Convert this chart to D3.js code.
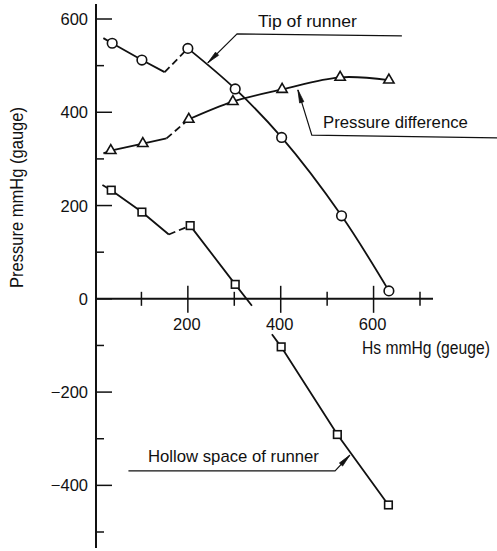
<!DOCTYPE html>
<html><head><meta charset="utf-8">
<script src="https://cdn.jsdelivr.net/npm/d3@7"></script>
<style>body{margin:0;background:#fff}svg{display:block}</style>
</head><body><svg id="c" width="497" height="551"></svg>
<script>
// ---- data ----
const xMajorTicks = [200, 400, 600];
const xMinorTicks = [100, 300, 500, 700];
const yMajorTicks = [600, 400, 200, 0, -200, -400];
const yMinorTicks = [500, 300, 100, -100, -300, -500];
const xTickLabels = ["200", "400", "600"];
const yTickLabels = ["600", "400", "200", "0", "\u2212200", "\u2212400"];

// Tip of runner (circles)
const tipX = [37, 101, 200, 302, 402, 531, 633];
const tipY = [548, 512, 537, 450, 346, 178, 17];
const tipLead = [[18, 559], [37, 548], [101, 512], [150, 486]];
const tipDash = [[150, 486], [200, 537]];
const tipCurve = [[200, 537], [302, 450], [402, 346], [531, 178], [633, 17]];

// Pressure difference (triangles)
const pdX = [34, 103, 202, 297, 403, 528, 633];
const pdY = [318, 333, 385, 423, 449, 475, 469];
const pdLead = [[18, 312], [34, 318], [103, 333], [154, 344]];
const pdDash = [[154, 344], [202, 385]];
const pdCurve = [[202, 385], [297, 423], [403, 449], [528, 475], [633, 469]];

// Hollow space of runner (squares)
const hsX = [35, 101, 205, 302, 401, 522, 632];
const hsY = [233, 186, 157, 31, -103, -291, -442];
const hsLead = [[16, 244], [35, 233], [101, 186], [159, 138]];
const hsDash = [[159, 138], [205, 157]];
const hsSeg1 = [[205, 157], [302, 31], [338, -15]];
const hsSeg2 = [[381, -76], [401, -103], [522, -291], [632, -442]];

// annotations (data units)
const annText = ["Tip of runner", "Pressure difference", "Hollow space of runner"];
const annAt = [[351, 583], [491, 366], [114, -349]];
const annLeader = [
  [[661, 564], [306, 568], [243, 506]],
  [[866, 345], [467, 351], [437, 448]],
  [[72, -369], [517, -369], [549, -335]]
];
const xTitle = "Hs mmHg (geuge)";
const yTitle = "Pressure mmHg (gauge)";

// ---- drawing ----
const svg = d3.select("#c");
const x = d3.scaleLinear().domain([0, 700]).range([95, 420]);
const y = d3.scaleLinear().domain([-500, 600]).range([532, 19]);
const ink = "#111";
const font = "'Liberation Sans', Arial, sans-serif";

svg.append("rect").attr("width", 497).attr("height", 551).attr("fill", "#fff");

// axes
const x0 = x(0), y0 = y(0);
svg.append("line").attr("x1", x0 + 1).attr("x2", x0 + 1).attr("y1", 4).attr("y2", 548)
  .attr("stroke", ink).attr("stroke-width", 2);
svg.append("line").attr("x1", x0).attr("x2", 433).attr("y1", y0).attr("y2", y0)
  .attr("stroke", ink).attr("stroke-width", 2);

svg.selectAll(".ymaj").data(yMajorTicks).join("line")
  .attr("x1", x0 + 1).attr("x2", x0 + 17).attr("y1", d => y(d)).attr("y2", d => y(d))
  .attr("stroke", ink).attr("stroke-width", 1.5);
svg.selectAll(".ymin").data(yMinorTicks).join("line")
  .attr("x1", x0 + 1).attr("x2", x0 + 9).attr("y1", d => y(d)).attr("y2", d => y(d))
  .attr("stroke", ink).attr("stroke-width", 1.5);
svg.selectAll(".xmaj").data(xMajorTicks).join("line")
  .attr("x1", d => x(d)).attr("x2", d => x(d)).attr("y1", y0 - 13).attr("y2", y0 + 14)
  .attr("stroke", ink).attr("stroke-width", 1.5);
svg.selectAll(".xmin").data(xMinorTicks).join("line")
  .attr("x1", d => x(d)).attr("x2", d => x(d)).attr("y1", y0 - 7).attr("y2", y0 + 7)
  .attr("stroke", ink).attr("stroke-width", 1.5);

svg.selectAll(".ylab").data(yMajorTicks).join("text")
  .attr("x", 88).attr("y", d => y(d) + 6)
  .attr("text-anchor", "end").attr("font-family", font).attr("font-size", 16.5)
  .attr("fill", ink).text((d, i) => yTickLabels[i]);
svg.selectAll(".xlab").data(xMajorTicks).join("text")
  .attr("x", d => x(d) - 1).attr("y", y0 + 31)
  .attr("text-anchor", "middle").attr("font-family", font).attr("font-size", 16.5)
  .attr("fill", ink).text((d, i) => xTickLabels[i]);

svg.append("text").attr("transform", "translate(362,354) scale(0.87,1)")
  .attr("font-family", font).attr("font-size", 18).attr("fill", ink).text(xTitle);
svg.append("text").attr("transform", "translate(23,197.5) rotate(-90)").attr("text-anchor", "middle")
  .attr("font-family", font).attr("font-size", 18)
  .attr("textLength", 181).attr("lengthAdjust", "spacingAndGlyphs").attr("fill", ink).text(yTitle);

// series lines
const lin = d3.line().x(d => x(d[0])).y(d => y(d[1]));
const smooth = d3.line().x(d => x(d[0])).y(d => y(d[1])).curve(d3.curveCatmullRom.alpha(0.5));
function path(data, gen, dash) {
  svg.append("path").attr("d", gen(data)).attr("fill", "none").attr("stroke", ink)
    .attr("stroke-width", 1.8).attr("stroke-dasharray", dash || null);
}
path(tipLead, lin); path(tipDash, lin, "7,4"); path(tipCurve, smooth);
path(pdLead, lin); path(pdDash, lin, "7,4"); path(pdCurve, smooth);
path(hsLead, lin); path(hsDash, lin, "7,4"); path(hsSeg1, lin); path(hsSeg2, lin);

// markers
svg.selectAll(".circ").data(tipX).join("circle")
  .attr("cx", d => x(d)).attr("cy", (d, i) => y(tipY[i])).attr("r", 4.8)
  .attr("fill", "#fff").attr("stroke", ink).attr("stroke-width", 1.6);
const tri = d3.symbol().type(d3.symbolTriangle).size(46);
svg.selectAll(".tri").data(pdX).join("path")
  .attr("d", tri).attr("transform", (d, i) => `translate(${x(d)},${y(pdY[i])})`)
  .attr("fill", "#fff").attr("stroke", ink).attr("stroke-width", 1.6);
svg.selectAll(".sq").data(hsX).join("rect")
  .attr("x", d => x(d) - 3.8).attr("y", (d, i) => y(hsY[i]) - 3.8).attr("width", 7.6).attr("height", 7.6)
  .attr("fill", "#fff").attr("stroke", ink).attr("stroke-width", 1.6);

// annotations
annText.forEach((t, i) => {
  const len = [99, 145, 171][i];
  svg.append("text").attr("x", x(annAt[i][0])).attr("y", y(annAt[i][1]))
    .attr("font-family", font).attr("font-size", 17).attr("fill", ink)
    .attr("textLength", len).attr("lengthAdjust", "spacingAndGlyphs").text(t);
  const pts = annLeader[i];
  svg.append("path").attr("d", lin(pts)).attr("fill", "none").attr("stroke", ink).attr("stroke-width", 1.2);
  const tip = pts[2], el = pts[1];
  const tx = x(tip[0]), ty = y(tip[1]), ex = x(el[0]), ey = y(el[1]);
  const L = Math.hypot(ex - tx, ey - ty), ux = (ex - tx) / L, uy = (ey - ty) / L;
  const nx = -uy, ny = ux, al = 13, aw = 2.2;
  svg.append("path")
    .attr("d", `M${tx},${ty}L${tx + ux * al + nx * aw},${ty + uy * al + ny * aw}L${tx + ux * al - nx * aw},${ty + uy * al - ny * aw}Z`)
    .attr("fill", ink).attr("stroke", ink).attr("stroke-width", 0.8);
});
</script></body></html>
